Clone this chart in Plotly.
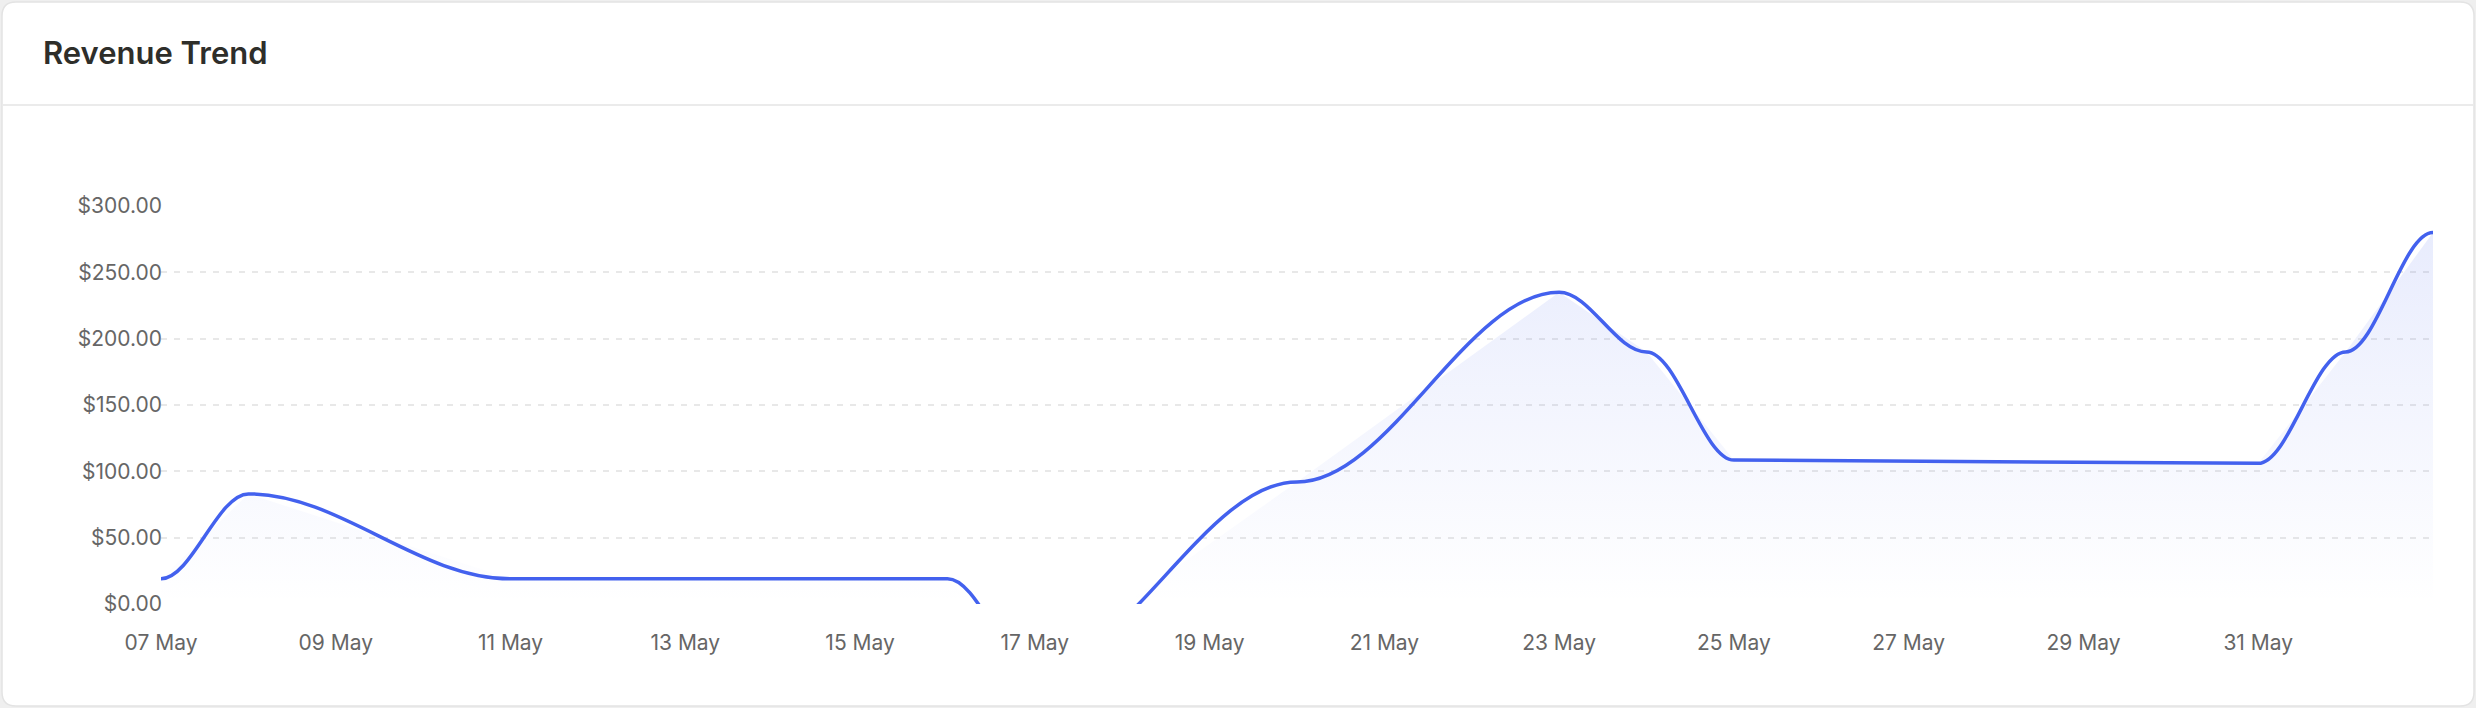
import plotly.graph_objects as go
import pandas as pd

# ---------------- data ----------------
dates = ['2024-05-07', '2024-05-08', '2024-05-11', '2024-05-16', '2024-05-17',
         '2024-05-20', '2024-05-23', '2024-05-24', '2024-05-25', '2024-05-31',
         '2024-06-01', '2024-06-02']
revenue = [19, 83, 19, 19, -48, 92, 235, 190, 108.5, 106, 190, 280]

x_tick_dates = ['2024-05-07', '2024-05-09', '2024-05-11', '2024-05-13', '2024-05-15',
                '2024-05-17', '2024-05-19', '2024-05-21', '2024-05-23', '2024-05-25',
                '2024-05-27', '2024-05-29', '2024-05-31']
y_tick_values = [0, 50, 100, 150, 200, 250, 300]
title_text = 'Revenue Trend'

# ---------------- styling ----------------
W, H = 2476, 708
ML, MR, MT, MB = 161, 43, 206, 104
LINE_COLOR = '#4361EE'
FONT = 'Inter, Roboto, sans-serif'
PW, PH = W - ML - MR, H - MT - MB


def px_x(px):
    return (px - ML) / PW


def px_y(py):
    return (H - MB - py) / PH


# smooth curve (horizontal tangents at each point) built from the data
ts = pd.to_datetime(dates)


def fmt(t):
    return t.strftime('%Y-%m-%d_%H:%M:%S')


curve = f"M{fmt(ts[0])},{revenue[0]}"
for i in range(1, len(ts)):
    t0, t1 = ts[i - 1], ts[i]
    d = (t1 - t0) * 0.35
    curve += (f" C{fmt(t0 + d)},{revenue[i - 1]} {fmt(t1 - d)},{revenue[i]}"
              f" {fmt(t1)},{revenue[i]}")

fig = go.Figure()
fig.add_trace(go.Scatter(
    x=dates, y=revenue, mode='lines',
    line=dict(width=0, color='rgba(0,0,0,0)'),
    fill='tozeroy',
    fillgradient=dict(type='vertical',
                      colorscale=[[0, 'rgba(67,97,238,0.0)'],
                                  [1, 'rgba(67,97,238,0.12)']],
                      start=0, stop=max(revenue)),
    hoverinfo='skip', showlegend=False,
))

# card background with rounded corners (paper coords)
cx0, cx1, cy0, cy1, r = 2, 2474, 2, 706, 14
rx, ry = r / PW, r / PH
X0, X1, Y0, Y1 = px_x(cx0), px_x(cx1), px_y(cy1), px_y(cy0)
card = (f"M{X0 + rx},{Y1} L{X1 - rx},{Y1} Q{X1},{Y1} {X1},{Y1 - ry} "
        f"L{X1},{Y0 + ry} Q{X1},{Y0} {X1 - rx},{Y0} L{X0 + rx},{Y0} "
        f"Q{X0},{Y0} {X0},{Y0 + ry} L{X0},{Y1 - ry} Q{X0},{Y1} {X0 + rx},{Y1} Z")

shapes = [
    dict(type='path', path=card, xref='paper', yref='paper', layer='below',
         fillcolor='#ffffff', line=dict(color='#e3e3e3', width=1.5)),
    dict(type='line', xref='paper', yref='paper', layer='below',
         x0=px_x(cx0 + 1), x1=px_x(cx1 - 1), y0=px_y(105), y1=px_y(105),
         line=dict(color='#ebebeb', width=2)),
    dict(type='path', path=curve, xref='x', yref='y', layer='above',
         line=dict(color=LINE_COLOR, width=3.5)),
]

fig.update_layout(
    width=W, height=H,
    margin=dict(l=ML, r=MR, t=MT, b=MB, pad=0),
    paper_bgcolor='#efefef',
    plot_bgcolor='rgba(0,0,0,0)',
    shapes=shapes,
    showlegend=False,
    hovermode=False,
    title=dict(text=title_text, xref='container', yref='container',
               x=43 / W, xanchor='left', y=1 - 53 / H, yanchor='middle',
               font=dict(family=FONT, size=31, weight=600, color='#2e2e2a')),
    font=dict(family=FONT, size=21, color='#666666'),
)

fig.update_xaxes(
    type='date', range=[dates[0], dates[-1]],
    tickvals=x_tick_dates, tickformat='%d %b',
    showgrid=False, zeroline=False, showline=False, ticks='',
    ticklabelstandoff=24,
    tickfont=dict(family=FONT, size=21, color='#666666'),
)
fig.update_yaxes(
    range=[0, 300], tickvals=y_tick_values,
    tickformat='$,.2f',
    showgrid=True, gridcolor='#e8e8e8', gridwidth=1.5, griddash='6px,7px',
    zeroline=False, showline=False, ticks='',
    ticklabelstandoff=-2,
    tickfont=dict(family=FONT, size=21, color='#666666'),
)

fig.write_html('out.html', config={'displayModeBar': False})
